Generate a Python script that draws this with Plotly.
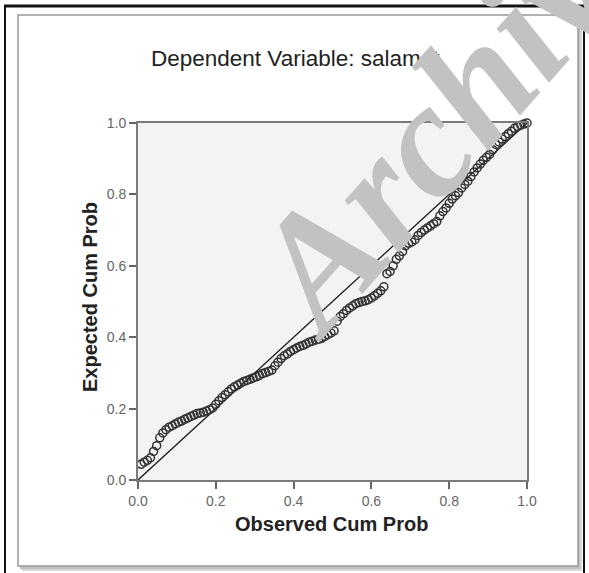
import plotly.graph_objects as go

# Observed cumulative probability (x) and expected cumulative probability (y)
observed = [0.008, 0.016, 0.024, 0.032, 0.040, 0.048, 0.056, 0.064, 0.072, 0.080,
            0.088, 0.096, 0.104, 0.112, 0.120, 0.128, 0.136, 0.144, 0.152, 0.160,
            0.168, 0.176, 0.184, 0.192, 0.200, 0.208, 0.216, 0.224, 0.232, 0.240,
            0.248, 0.256, 0.264, 0.272, 0.280, 0.288, 0.296, 0.304, 0.312, 0.320,
            0.328, 0.336, 0.344, 0.352, 0.360, 0.368, 0.376, 0.384, 0.392, 0.400,
            0.408, 0.416, 0.424, 0.432, 0.440, 0.448, 0.456, 0.464, 0.472, 0.480,
            0.488, 0.496, 0.504, 0.512, 0.520, 0.528, 0.536, 0.544, 0.552, 0.560,
            0.568, 0.576, 0.584, 0.592, 0.600, 0.608, 0.616, 0.624, 0.632, 0.640,
            0.648, 0.656, 0.664, 0.672, 0.680, 0.688, 0.696, 0.704, 0.712, 0.720,
            0.728, 0.736, 0.744, 0.752, 0.760, 0.768, 0.776, 0.784, 0.792, 0.800,
            0.808, 0.816, 0.824, 0.832, 0.840, 0.848, 0.856, 0.864, 0.872, 0.880,
            0.888, 0.896, 0.904, 0.912, 0.920, 0.928, 0.936, 0.944, 0.952, 0.960,
            0.968, 0.976, 0.984, 0.992, 1.000]
expected = [0.044, 0.050, 0.055, 0.062, 0.080, 0.096, 0.118, 0.132, 0.141, 0.148,
            0.152, 0.157, 0.162, 0.165, 0.170, 0.174, 0.178, 0.182, 0.186, 0.188,
            0.190, 0.193, 0.197, 0.202, 0.212, 0.222, 0.231, 0.239, 0.247, 0.255,
            0.261, 0.266, 0.271, 0.276, 0.279, 0.282, 0.286, 0.289, 0.293, 0.298,
            0.301, 0.304, 0.308, 0.320, 0.330, 0.340, 0.348, 0.353, 0.360, 0.365,
            0.370, 0.374, 0.377, 0.381, 0.386, 0.389, 0.392, 0.394, 0.397, 0.402,
            0.407, 0.412, 0.418, 0.445, 0.458, 0.466, 0.475, 0.482, 0.488, 0.494,
            0.497, 0.500, 0.502, 0.505, 0.510, 0.516, 0.523, 0.530, 0.541, 0.578,
            0.584, 0.600, 0.618, 0.628, 0.640, 0.656, 0.663, 0.667, 0.673, 0.685,
            0.693, 0.700, 0.706, 0.712, 0.718, 0.724, 0.740, 0.752, 0.762, 0.775,
            0.787, 0.796, 0.805, 0.818, 0.828, 0.837, 0.850, 0.863, 0.874, 0.885,
            0.896, 0.904, 0.912, 0.925, 0.940, 0.947, 0.955, 0.962, 0.970, 0.977,
            0.985, 0.990, 0.994, 0.997, 1.000]
ref_line = [0.0, 1.0]
tick_vals = [0.0, 0.2, 0.4, 0.6, 0.8, 1.0]
tick_text = ["0.0", "0.2", "0.4", "0.6", "0.8", "1.0"]

title_text = "Dependent Variable: salamat"
x_title = "Observed Cum Prob"
y_title = "Expected Cum Prob"
watermark = "Archive"

W, H = 589, 573
L, R, T, B = 138, 527, 123, 480  # plot area in pixels


def px(v):
    return (v - L) / (R - L)


def py(v):
    return (B - v) / (B - T)


fig = go.Figure()
fig.add_trace(go.Scatter(x=ref_line, y=ref_line, mode="lines",
                         line=dict(color="#1a1a1a", width=1.3),
                         hoverinfo="skip", showlegend=False))
fig.add_trace(go.Scatter(x=observed, y=expected, mode="markers",
                         marker=dict(symbol="circle-open", size=8, color="#333333",
                                     line=dict(width=1.5)),
                         cliponaxis=False, showlegend=False))

shapes = [
    # soft shadow of the inner panel
    dict(type="rect", xref="paper", yref="paper", x0=px(22), x1=px(582), y0=py(19), y1=py(571),
         fillcolor="#d8d8d8", line=dict(width=0), layer="below"),
    dict(type="rect", xref="paper", yref="paper", x0=px(20), x1=px(580), y0=py(17), y1=py(569),
         fillcolor="#c0c0c0", line=dict(width=0), layer="below"),
    # inner panel
    dict(type="rect", xref="paper", yref="paper", x0=px(18), x1=px(578), y0=py(15), y1=py(566),
         fillcolor="white", line=dict(color="#9a9a9a", width=1.5), layer="below"),
    # plot area background
    dict(type="rect", xref="x", yref="y", x0=0, x1=1, y0=0, y1=1,
         fillcolor="#f2f3f5", line=dict(width=0), layer="below"),
    # outer black frame
    dict(type="line", xref="paper", yref="paper", x0=px(5), x1=px(5), y0=py(5), y1=py(580),
         line=dict(color="#111111", width=2)),
    dict(type="line", xref="paper", yref="paper", x0=px(584), x1=px(584), y0=py(5), y1=py(580),
         line=dict(color="#111111", width=2)),
    dict(type="line", xref="paper", yref="paper", x0=px(4), x1=px(585), y0=py(6), y1=py(6),
         line=dict(color="#111111", width=3)),
]

annotations = [
    dict(text=title_text, xref="paper", yref="paper", x=px(295), y=py(58),
         showarrow=False, xanchor="center", yanchor="middle",
         font=dict(family="Liberation Sans, Arial", size=22.5, color="#222222")),
    dict(text="<b>" + x_title + "</b>", xref="paper", yref="paper", x=px(331), y=py(524),
         showarrow=False, xanchor="center", yanchor="middle",
         font=dict(family="Liberation Sans, Arial", size=20, color="#222222")),
    dict(text="<b>" + y_title + "</b>", xref="paper", yref="paper", x=px(90), y=py(297),
         showarrow=False, xanchor="center", yanchor="middle", textangle=-90,
         font=dict(family="Liberation Sans, Arial", size=20, color="#222222")),
    dict(text="<b><i>" + watermark + "</i></b>", xref="paper", yref="paper", x=px(454), y=py(107),
         showarrow=False, xanchor="center", yanchor="middle", textangle=-48.5,
         font=dict(family="Liberation Serif, Times New Roman", size=163, color="#c2c2c2")),
]

axis_common = dict(range=[0, 1], tickvals=tick_vals, ticktext=tick_text,
                   showgrid=False, zeroline=False, showline=True, mirror=True,
                   linecolor="#7a7a7a", linewidth=2, ticks="outside", ticklen=7,
                   tickwidth=2, tickcolor="#666666",
                   tickfont=dict(family="Liberation Sans, Arial", size=14, color="#666666"))

fig.update_layout(
    width=W, height=H,
    margin=dict(l=L, r=W - R, t=T, b=H - B, pad=0),
    paper_bgcolor="white", plot_bgcolor="rgba(0,0,0,0)",
    xaxis=dict(**axis_common),
    yaxis=dict(**axis_common),
    shapes=shapes, annotations=annotations,
    showlegend=False,
)

fig.write_html("out.html", config={"displayModeBar": False},
               post_script="document.body.style.margin='0';document.body.style.overflow='hidden';")
